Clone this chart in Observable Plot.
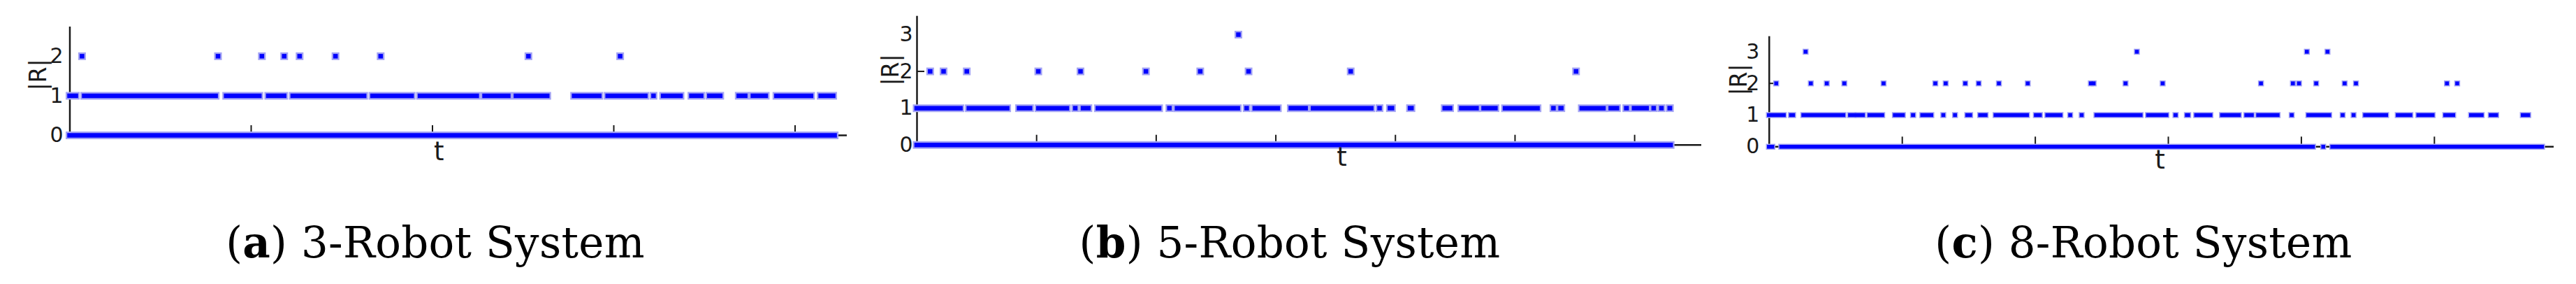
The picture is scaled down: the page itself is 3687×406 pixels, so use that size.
<!DOCTYPE html>
<html>
<head>
<meta charset="utf-8">
<script src="https://cdn.jsdelivr.net/npm/d3@7"></script>
<script src="https://cdn.jsdelivr.net/npm/@observablehq/plot@0.6"></script>
<style>
  html, body { margin: 0; padding: 0; background: #fff; }
  #wrap { position: relative; width: 3687px; height: 406px; overflow: hidden; background: #fff; }
  .panel { position: absolute; top: 0; }
  .cap { position: absolute; top: 316px; font-family: "DejaVu Serif", serif; font-size: 61px; line-height: 61px;
         letter-spacing: 0.3px; white-space: nowrap; transform: translateX(-50%); color: #000; }
  .cap b { font-weight: bold; }
</style>
</head>
<body>
<div id="wrap"></div>
<script>
// ---------- data (t in units where one x tick = 100; level = |R|) ----------
const captionLetters = ["a", "b", "c"];
const captionTexts = ["3-Robot System", "5-Robot System", "8-Robot System"];

// Panel (a): 3-robot system
const xTicksA = [100, 200, 300, 400];
const yTicksA = [0, 1, 2];
const level0A = [[0, 422]];
const level1A = [[0,3.5],[8.1,80.6],[86.4,104.7],[109.6,118.4],[123.1,162.5],[167.1,188.7],[193.3,224.6],
  [228.9,242.0],[246.2,263.5],[278.3,292.2],[296.8,317.6],[322.1,322.1],[327.4,337.0],[343.0,348.4],
  [352.9,358.9],[369.1,372.7],[376.9,384.0],[389.9,409.0],[414.3,421.2]];
const level2A = [6.9, 81.9, 106.1, 118.4, 126.9, 146.7, 171.6, 253.1, 303.7];
const level3A = [];

// Panel (b): 5-robot system
const xTicksB = [100, 200, 300, 400, 500, 600];
const yTicksB = [0, 1, 2, 3];
const level0B = [[0, 630.4]];
const level1B = [[0,36.6],[43.6,75.7],[85.6,94.8],[101.8,125.6],[132.6,132.6],[139.1,143.6],[151.5,202.7],
  [211.3,211.3],[217.7,268.5],[275.9,275.9],[282.7,302.0],[312.8,325.2],[331.4,380.1],[387.0,387.0],
  [395.7,397.4],[412.5,413.7],[441.5,446.0],[455.4,468.1],[474.0,483.9],[491.9,519.1],[532.4,532.4],
  [538.4,539.0],[556.1,574.2],[580.3,585.5],[593.3,593.6],[599.8,610.3],[616.2,616.2],[622.7,622.7],
  [629.6,629.8]];
const level2B = [11.3, 22.5, 41.9, 101.7, 137.0, 191.7, 237.1, 277.5, 362.9, 551.3];
const level3B = [269.0];

// Panel (c): 8-robot system
const xTicksC = [100, 200, 300, 400, 500];
const yTicksC = [0, 1, 2, 3];
const level0C = [[0, 2.6], [9.3, 409.0], [416.7, 416.7], [423.5, 581.2]];
const level1C = [[0,11.2],[16.6,18.2],[25.9,56.0],[61.0,63.8],[66.5,70.7],[75.6,85.2],[94.7,100.7],
  [108.3,108.5],[115.3,122.1],[131.1,131.1],[139.9,139.9],[149.1,151.3],[158.8,162.9],[170.4,194.0],
  [200.7,203.7],[209.3,219.2],[226.5,226.5],[235.1,235.1],[246.2,279.4],[285.0,298.8],[305.6,305.8],
  [314.2,315.2],[321.2,331.9],[340.6,353.3],[358.9,363.0],[367.8,382.4],[393.0,393.0],[405.5,421.2],
  [431.3,431.3],[439.5,439.5],[448.2,464.0],[472.7,482.2],[488.2,498.9],[508.4,514.4],[527.8,535.8],
  [542.6,546.7],[566.7,570.8]];
const level2C = [5.5, 31.5, 43.5, 56.7, 86.2, 125.1, 132.9, 147.6, 157.7, 172.9, 194.6, 242.0, 244.1,
  268.1, 296.0, 369.9, 393.9, 398.5, 411.4, 432.8, 441.3, 509.7, 517.4];
const level3C = [27.6, 276.6, 404.4, 419.9];

// ---------- layout / style (not data) ----------
const panels = [
  { left: 0, width: 1229, xMax: 428.7, yMax: 2.74, mL: 99.5, mR: 17, mT: 38, mB: 67,
    runs0: level0A, runs1: level1A, dots2: level2A, dots3: level3A, xTicks: xTicksA, yTicks: yTicksA,
    yTickMarks: [], pad: 9.5, rDx: -45, rDy: 13.5, tDx: -28, tDy: 35, hw: 11, cw: 6.5, capX: 623 },
  { left: 1229, width: 1229, xMax: 656, yMax: 3.5, mL: 83, mR: 23, mT: 22.7, mB: 53.3,
    runs0: level0B, runs1: level1B, dots2: level2B, dots3: level3B, xTicks: xTicksB, yTicks: yTicksB,
    yTickMarks: [2], pad: 6, rDx: -37, rDy: 7.3, tDx: 46.5, tDy: 30, hw: 11, cw: 6.5, capX: 1846 },
  { left: 2458, width: 1229, xMax: 589.9, yMax: 3.48, mL: 73.8, mR: 32, mT: 51.7, mB: 50.7,
    runs0: level0C, runs1: level1C, dots2: level2C, dots3: level3C, xTicks: xTicksC, yTicks: yTicksC,
    yTickMarks: [2], pad: 14, rDx: -43, rDy: 5.5, tDx: -2.4, tDy: 31, hw: 8.5, cw: 5.5, capX: 3068 }
];
const H = 260;
const HALO = "#a3a3f4";
const CORE = "#0000ff";
const INK = "#1a1a1a";

const wrap = document.getElementById("wrap");

panels.forEach((p, i) => {
  const rows = [];
  p.runs0.forEach(([a, b]) => rows.push({ t1: a, t2: b, level: 0 }));
  p.runs1.forEach(([a, b]) => rows.push({ t1: a, t2: b, level: 1 }));
  p.dots2.forEach(t => rows.push({ t1: t, t2: t, level: 2 }));
  p.dots3.forEach(t => rows.push({ t1: t, t2: t, level: 3 }));

  const frameH = H - p.mT - p.mB;
  const frameW = p.width - p.mL - p.mR;

  const chart = Plot.plot({
    width: p.width, height: H,
    marginLeft: p.mL, marginRight: p.mR, marginTop: p.mT, marginBottom: p.mB,
    x: { domain: [0, p.xMax], axis: null },
    y: { domain: [0, p.yMax] },
    style: { fontFamily: "DejaVu Sans, sans-serif", color: INK, background: "transparent", overflow: "visible" },
    marks: [
      Plot.ruleY([0], { x1: 0, x2: p.xMax, stroke: INK, strokeWidth: 2.5 }),
      Plot.ruleX([0], { y1: 0, y2: p.yMax, stroke: INK, strokeWidth: 2.5 }),
      Plot.tickX(p.xTicks, { x: d => d, insetTop: frameH - 14, stroke: INK, strokeWidth: 2 }),
      Plot.tickY(p.yTickMarks, { y: d => d, insetRight: frameW - 11, stroke: INK, strokeWidth: 2 }),
      Plot.ruleY(rows, { y: "level", x1: "t1", x2: "t2", stroke: HALO, strokeWidth: p.hw, strokeLinecap: "square" }),
      Plot.ruleY(rows, { y: "level", x1: "t1", x2: "t2", stroke: CORE, strokeWidth: p.cw, strokeLinecap: "square" }),
      Plot.axisY({ ticks: p.yTicks, tickSize: 0, tickPadding: p.pad, fontSize: 30, label: null, tickFormat: d => String(d) }),
      Plot.text(["|R|"], { frameAnchor: "left", dx: p.rDx, dy: p.rDy, rotate: -90, fontSize: 33, fill: INK }),
      Plot.text(["t"], { frameAnchor: "bottom", dx: p.tDx, dy: p.tDy, fontSize: 37, fill: INK })
    ]
  });
  const holder = document.createElement("div");
  holder.className = "panel";
  holder.style.left = p.left + "px";
  holder.appendChild(chart);
  wrap.appendChild(holder);

  const cap = document.createElement("div");
  cap.className = "cap";
  cap.style.left = p.capX + "px";
  cap.innerHTML = "(<b>" + captionLetters[i] + "</b>) " + captionTexts[i];
  wrap.appendChild(cap);
});
</script>
</body>
</html>
